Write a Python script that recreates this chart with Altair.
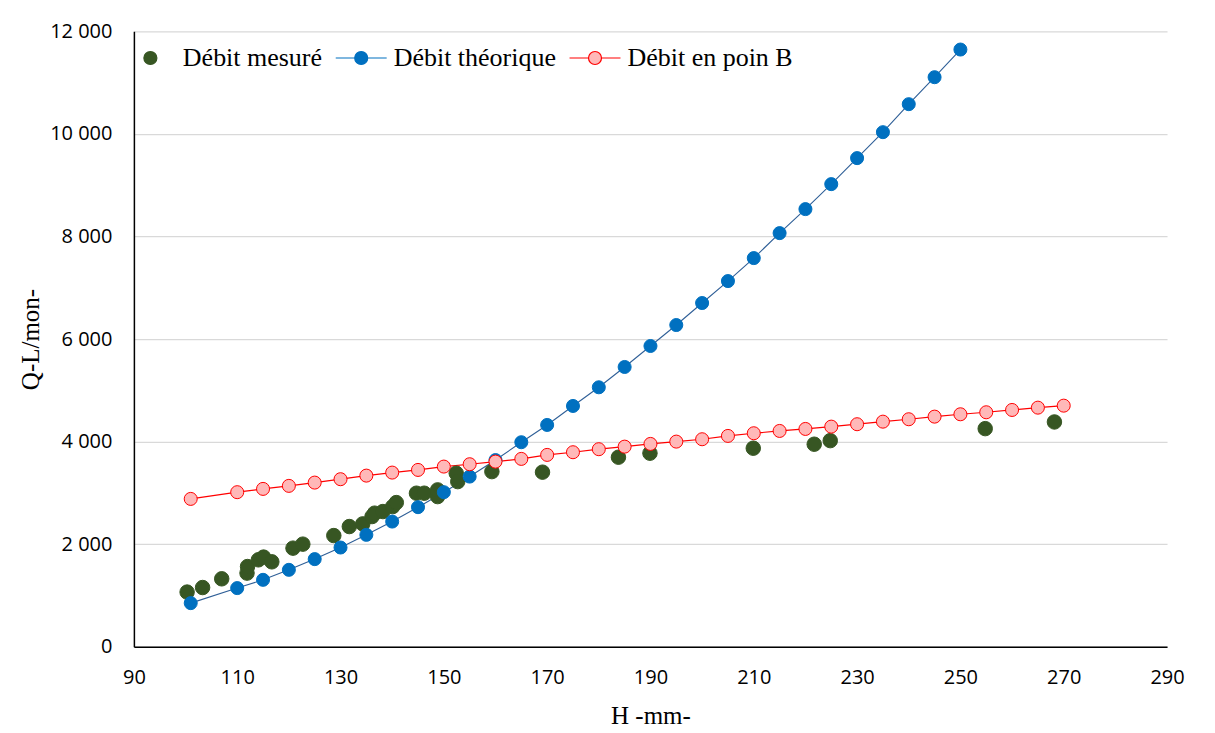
import altair as alt
import pandas as pd

# ---- data ----
mes_h = [100.3, 103.3, 107.0, 111.9, 112.0, 114.1, 115.1, 116.7, 120.8, 122.7,
         128.7, 131.7, 134.3, 136.1, 136.6, 138.2, 140.1, 140.8, 144.7, 146.2,
         148.8, 148.8, 152.4, 152.7, 159.3, 169.1, 183.8, 189.9, 209.9, 221.7,
         224.8, 254.8, 268.2]
mes_q = [1066, 1155, 1325, 1436, 1564, 1695, 1748, 1656, 1923, 2001,
         2168, 2344, 2396, 2539, 2605, 2636, 2733, 2811, 2994, 2994,
         2928, 3059, 3384, 3220, 3415, 3404, 3696, 3774, 3871, 3949,
         4019, 4253, 4383]

th_h = [101, 110, 115, 120, 125, 130, 135, 140, 145, 150, 155, 160, 165, 170,
        175, 180, 185, 190, 195, 200, 205, 210, 215, 220, 225, 230, 235, 240,
        245, 250]
th_q = [851, 1144, 1305, 1500, 1709, 1935, 2182, 2441, 2722, 3014, 3318, 3640,
        3988, 4325, 4695, 5059, 5455, 5864, 6273, 6702, 7130, 7578, 8065, 8533,
        9020, 9527, 10033, 10579, 11105, 11644]

b_h = [101, 110, 115, 120, 125, 130, 135, 140, 145, 150, 155, 160, 165, 170,
       175, 180, 185, 190, 195, 200, 205, 210, 215, 220, 225, 230, 235, 240,
       245, 250, 255, 260, 265, 270]
b_q = [2883, 3014, 3078, 3137, 3201, 3267, 3337, 3396, 3448, 3513, 3559, 3610,
       3663, 3741, 3793, 3852, 3902, 3955, 4000, 4046, 4111, 4163, 4208, 4247,
       4292, 4339, 4389, 4436, 4487, 4533, 4572, 4617, 4662, 4701]

series_names = ["Débit mesuré", "Débit théorique", "Débit en poin B"]
x_ticks = [90, 110, 130, 150, 170, 190, 210, 230, 250, 270, 290]
y_ticks = [0, 2000, 4000, 6000, 8000, 10000, 12000]

fill_colors = ["#375623", "#0070C0", "#FFB8B8"]
stroke_colors = ["#375623", "#0070C0", "#FF0000"]
blue_line = "#2F5F97"
red_line = "#FF0000"

df = pd.concat([
    pd.DataFrame({"H": mes_h, "Q": mes_q, "serie": series_names[0]}),
    pd.DataFrame({"H": th_h, "Q": th_q, "serie": series_names[1]}),
    pd.DataFrame({"H": b_h, "Q": b_q, "serie": series_names[2]}),
], ignore_index=True)
df["order"] = df.index

circ = "M-0.255,0A0.255,0.255 0 1,0 0.255,0A0.255,0.255 0 1,0 -0.255,0Z"
line_circ = "M-1,0L-0.255,0M0.255,0L1,0" + circ
sym_expr = f"datum.value == '{series_names[0]}' ? '{circ}' : '{line_circ}'"

x_enc = alt.X("H:Q", scale=alt.Scale(domain=[90, 290], nice=False),
              axis=alt.Axis(values=x_ticks, title="H -mm-", grid=False, labelFlush=False))
y_enc = alt.Y("Q:Q", scale=alt.Scale(domain=[0, 12000], nice=False),
              axis=alt.Axis(values=y_ticks, title="Q-L/mon-", grid=True,
                            labelExpr="replace(format(datum.value, ','), ',', ' ')"))

leg = alt.Legend(
    title=None, orient="none", direction="horizontal", columns=3,
    legendX=-10, legendY=0, padding=0,
    symbolType=alt.ExprRef(sym_expr), symbolSize=2601, symbolStrokeWidth=1.2,
    labelFont="Liberation Serif", labelFontSize=26, labelColor="#000000",
    labelOffset=6, columnPadding=10, symbolOpacity=1, labelLimit=500,
)

line_th = alt.Chart(df).transform_filter(
    alt.datum.serie == series_names[1]
).mark_line(strokeWidth=1.1, color=blue_line).encode(x=x_enc, y=y_enc, order="order:Q")

line_b = alt.Chart(df).transform_filter(
    alt.datum.serie == series_names[2]
).mark_line(strokeWidth=1.2, color=red_line).encode(x=x_enc, y=y_enc, order="order:Q")

points = alt.Chart(df).mark_point(filled=False, opacity=1, strokeWidth=1).encode(
    x=x_enc, y=y_enc,
    fill=alt.Fill("serie:N", scale=alt.Scale(domain=series_names, range=fill_colors), legend=leg),
    stroke=alt.Stroke("serie:N", scale=alt.Scale(domain=series_names, range=stroke_colors), legend=leg),
    size=alt.condition(alt.datum.serie == series_names[0], alt.value(210), alt.value(170)),
    shape=alt.value("circle"),
)

chart = alt.layer(line_th, line_b, points).properties(
    width=1034, height=616,
    autosize=alt.AutoSizeParams(type="none"),
    padding={"left": 126, "top": 23, "right": 40, "bottom": 86},
).configure_view(strokeWidth=0).configure_axis(
    domainColor="#000000", domainWidth=1.5, ticks=False,
    gridColor="#D9D9D9", gridWidth=1.3,
    labelFont="Open Sans", labelFontSize=20, labelColor="#000000",
    titleFont="Liberation Serif", titleFontSize=25, titleFontWeight="normal",
    titleColor="#000000",
).configure_axisY(labelPadding=22, titlePadding=6).configure_axisX(
    labelPadding=21, titlePadding=16
)

chart.save("out.html", embed_options={"renderer": "svg", "actions": False})
